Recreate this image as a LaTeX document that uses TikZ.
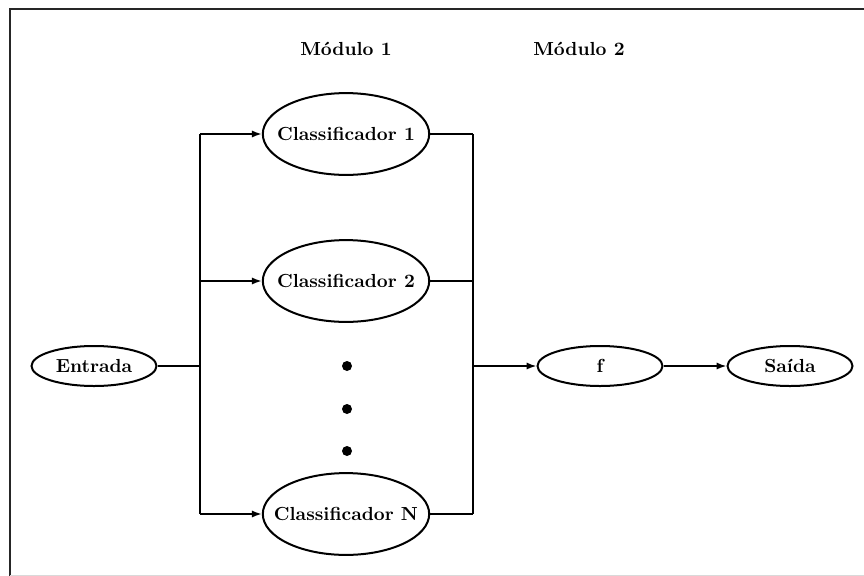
\documentclass[tikz,border=0pt]{standalone}
\usetikzlibrary{shapes.geometric,arrows.meta}
\begin{document}
\begin{tikzpicture}[x=0.55pt,y=-0.55pt,
  every node/.style={font=\fontsize{10.4}{12}\selectfont\bfseries},
  bigell/.style={ellipse,draw,line width=1.1pt,minimum width=91.5pt,minimum height=45pt,inner sep=0pt},
  smallell/.style={ellipse,draw,line width=1.1pt,minimum width=68.75pt,minimum height=22pt,inner sep=0pt},
  conn/.style={line width=1pt},
  arr/.style={line width=1pt,-{Latex[length=5.5pt,width=4pt]}},
  dotnode/.style={circle,fill=black,inner sep=0pt,minimum size=5.5pt}]
\useasboundingbox (0,0) rectangle (864,576);
% frame
\draw[line width=1.4pt,black!85] (10,576) -- (10,9) -- (864,9);
\draw[line width=0.8pt,black!15] (10,575.5) -- (864,575.5);
% titles
\node (m1) at (346,49) {Módulo 1};
\node (m2) at (579,49) {Módulo 2};
% nodes
\node[smallell] (in) at (94,366) {\makebox[0pt]{Entrada}};
\node[bigell] (c1) at (346,134) {\makebox[0pt]{Classificador 1}};
\node[bigell] (c2) at (346,281) {\makebox[0pt]{Classificador 2}};
\node[bigell] (cn) at (346,514) {\makebox[0pt]{Classificador N}};
\node[dotnode] (d1) at (347,366) {};
\node[dotnode] (d2) at (347,409) {};
\node[dotnode] (d3) at (347,451) {};
\node[smallell] (f) at (600,366) {\makebox[0pt]{f}};
\node[smallell] (out) at (790,366) {\makebox[0pt]{Saída}};
% junction coordinates
\coordinate (jl) at (200,366);
\coordinate (jl1) at (200,134);
\coordinate (jl2) at (200,281);
\coordinate (jln) at (200,514);
\coordinate (jr) at (473,366);
\coordinate (jr1) at (473,134);
\coordinate (jr2) at (473,281);
\coordinate (jrn) at (473,514);
% connectors
\draw[conn] (in) -- (jl);
\draw[conn] (jl1) -- (jln);
\draw[arr] (jl1) -- (c1);
\draw[arr] (jl2) -- (c2);
\draw[arr] (jln) -- (cn);
\draw[conn] (c1) -- (jr1);
\draw[conn] (c2) -- (jr2);
\draw[conn] (cn) -- (jrn);
\draw[conn] (jr1) -- (jrn);
\draw[arr] (jr) -- (f);
\draw[arr] (f) -- (out);
\end{tikzpicture}
\end{document}
